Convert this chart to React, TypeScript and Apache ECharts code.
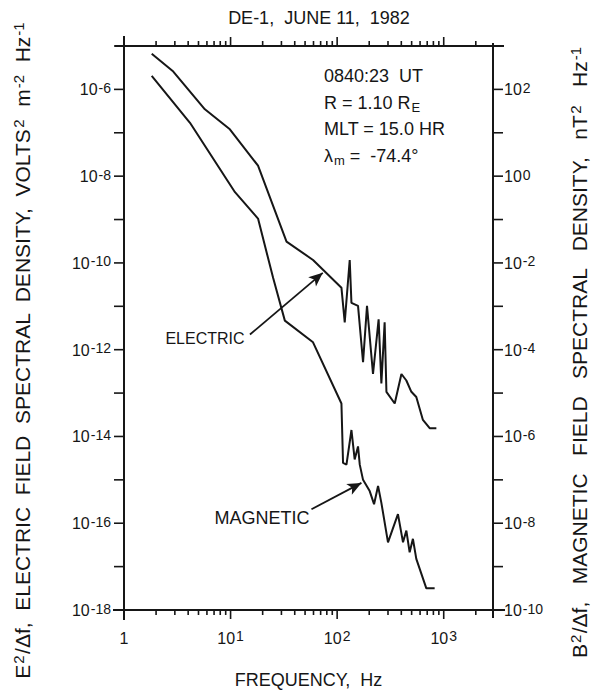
import React, { useEffect, useRef } from 'react';
import * as echarts from 'echarts';

// ---- data ----
const electricFreq = [1.82, 2.9, 5.74, 9.85, 18.1, 33.5, 59.4, 109.7, 117.8, 131.2, 136.2, 157, 175, 190.6, 217, 245, 260, 279, 290, 347, 401, 446, 497, 553, 638, 738, 853];
const electricPSD = [6.6e-6, 2.57e-6, 3.47e-7, 1.2e-7, 1.74e-8, 3.09e-10, 1.17e-10, 2.69e-11, 4.27e-12, 1.17e-10, 1.2e-11, 1.02e-11, 5.13e-13, 1.02e-11, 2.75e-13, 5.0e-12, 1.66e-13, 4.27e-12, 1.07e-13, 5.75e-14, 2.75e-13, 1.95e-13, 1.07e-13, 8.1e-14, 2.4e-14, 1.55e-14, 1.55e-14];

const magneticFreq = [1.82, 4.16, 11.0, 18.1, 25.1, 32.3, 59.4, 109.7, 113.6, 122.3, 136.2, 146, 157, 163, 175, 202, 222, 242, 260, 300, 372, 415, 446, 479, 514, 553, 687, 822];
const magneticPSD = [204, 17, 0.427, 0.105, 4.47e-3, 4.68e-4, 1.48e-4, 5.75e-6, 2.45e-7, 2.24e-7, 1.41e-6, 2.95e-7, 5.89e-7, 2.24e-7, 1e-7, 5.5e-8, 2.75e-8, 7.24e-8, 2.95e-8, 3.63e-9, 1.62e-8, 3.63e-9, 6.76e-9, 2.14e-9, 4.37e-9, 1.51e-9, 3.16e-10, 3.16e-10];

// axis ranges
const freqRange = [1, 2900];
const electricRange = [1e-18, 1e-5];
const magneticRange = [1e-10, 1e3];

// tick values
const freqMajorTicks = [1, 10, 100, 1000];
const freqMinorTicks = [2, 3, 4, 5, 6, 7, 8, 9, 20, 30, 40, 50, 60, 70, 80, 90, 200, 300, 400, 500, 600, 700, 800, 900, 2000];
const electricTicks = [1e-5, 1e-6, 1e-7, 1e-8, 1e-9, 1e-10, 1e-11, 1e-12, 1e-13, 1e-14, 1e-15, 1e-16, 1e-17, 1e-18];

// annotation arrows (data coordinates): [from, to]
const electricArrow = [[15.2, 2.24e-12], [73.3, 5.9e-11]];
const magneticArrow = [[57.4, 2.1e-8], [169, 8.5e-8]];

const infoLines = [
  '{t|0840:23  UT}',
  '{t|R = 1.10 R}{sub|E}',
  '{t|MLT = 15.0 HR}',
  '{t|λ}{sub|m}{t| =  -74.4°}',
];

const INK = '#161616';
const FONT = 'Liberation Sans';

const powLabel = (v: number, evenOnly: boolean, oneAsPlain: boolean) => {
  const e = Math.log10(v);
  const r = Math.round(e);
  if (Math.abs(e - r) > 1e-6) return '';
  if (evenOnly && r % 2 !== 0) return '';
  if (r === 0 && oneAsPlain) return '{b|1}';
  return `{b|10}{s|${r}}`;
};

const labelRich = {
  b: { fontSize: 16, lineHeight: 17, verticalAlign: 'bottom', color: INK, fontFamily: FONT },
  s: { fontSize: 14, lineHeight: 15, verticalAlign: 'top', padding: [0, 0, 8, 1], color: INK, fontFamily: FONT },
};

const nameRich = {
  b: { fontSize: 21, lineHeight: 22, verticalAlign: 'bottom', fill: INK, fontFamily: FONT },
  s: { fontSize: 15, lineHeight: 15, verticalAlign: 'top', padding: [0, 1, 9, 1], fill: INK, fontFamily: FONT },
};

export default function App() {
  const ref = useRef<HTMLDivElement>(null);
  useEffect(() => {
    if (!ref.current) return;
    const chart = echarts.init(ref.current, undefined, { renderer: 'svg' });

    const hiddenLine = { show: false, onZero: false };
    const hiddenTick = { show: false };

    const option: any = {
      animation: false,
      textStyle: { fontFamily: FONT, color: INK },
      grid: { left: 124, right: 103, top: 46, bottom: 79 },
      xAxis: [
        {
          type: 'log', logBase: 10, min: freqRange[0], max: freqRange[1], interval: 1,
          position: 'bottom', axisLine: hiddenLine, axisTick: hiddenTick, splitLine: { show: false },
          axisLabel: { formatter: (v: number) => powLabel(v, false, true), rich: labelRich, margin: 19 },
          name: 'FREQUENCY,  Hz', nameLocation: 'middle', nameGap: 61,
          nameTextStyle: { fontSize: 18, color: INK, fontFamily: FONT },
        },
        {
          type: 'log', logBase: 10, min: freqRange[0], max: freqRange[1], interval: 1,
          position: 'top', axisLine: hiddenLine, axisTick: hiddenTick, splitLine: { show: false },
          axisLabel: { show: false },
        },
      ],
      yAxis: [
        {
          type: 'log', logBase: 10, min: electricRange[0], max: electricRange[1], interval: 1,
          position: 'left', axisLine: hiddenLine, axisTick: hiddenTick, splitLine: { show: false },
          axisLabel: { formatter: (v: number) => powLabel(v, true, false), rich: labelRich, margin: 13 },
        },
        {
          type: 'log', logBase: 10, min: magneticRange[0], max: magneticRange[1], interval: 1,
          position: 'right', axisLine: hiddenLine, axisTick: hiddenTick, splitLine: { show: false },
          axisLabel: { formatter: (v: number) => powLabel(v, true, false), rich: labelRich, margin: 11 },
        },
      ],
      series: [
        {
          name: 'Electric', type: 'line', xAxisIndex: 0, yAxisIndex: 0, clip: false,
          data: electricFreq.map((f, i) => [f, electricPSD[i]]),
          symbol: 'none', lineStyle: { color: INK, width: 2 },
          markLine: {
            silent: true, symbol: ['none', 'arrow'], symbolSize: [9, 14],
            label: { show: false }, lineStyle: { color: INK, width: 1.8, type: 'solid' },
            data: [[{ coord: electricArrow[0] }, { coord: electricArrow[1] }]],
          },
        },
        {
          name: 'Magnetic', type: 'line', xAxisIndex: 0, yAxisIndex: 1, clip: false,
          data: magneticFreq.map((f, i) => [f, magneticPSD[i]]),
          symbol: 'none', lineStyle: { color: INK, width: 2 },
          markLine: {
            silent: true, symbol: ['none', 'arrow'], symbolSize: [9, 14],
            label: { show: false }, lineStyle: { color: INK, width: 1.8, type: 'solid' },
            data: [[{ coord: magneticArrow[0] }, { coord: magneticArrow[1] }]],
          },
        },
      ],
    };
    chart.setOption(option);

    const texts: any[] = [
      {
        type: 'text', x: 319, y: 18,
        style: { text: 'DE-1,  JUNE 11,  1982', fontSize: 18, fontFamily: FONT, fill: INK, align: 'center', verticalAlign: 'middle' },
      },
      ...infoLines.map((t, i) => ({
        type: 'text', x: 324, y: 77 + i * 26.5,
        style: {
          text: t, fill: INK, verticalAlign: 'middle', align: 'left',
          rich: {
            t: { fontSize: 18, fontFamily: FONT, fill: INK, lineHeight: 20, verticalAlign: 'top' },
            sub: { fontSize: 13, fontFamily: FONT, fill: INK, lineHeight: 14, verticalAlign: 'bottom', padding: [8, 0, 0, 1] },
          },
        },
      })),
      {
        type: 'text', x: 205, y: 338,
        style: { text: 'ELECTRIC', fontSize: 16, fontFamily: FONT, fill: INK, align: 'center', verticalAlign: 'middle' },
      },
      {
        type: 'text', x: 262, y: 518,
        style: { text: 'MAGNETIC', fontSize: 18, fontFamily: FONT, fill: INK, align: 'center', verticalAlign: 'middle' },
      },
      {
        type: 'text', x: 22, y: 350, rotation: Math.PI / 2,
        style: {
          text: '{b|E}{s|2}{b|/Δf,  ELECTRIC  FIELD  SPECTRAL  DENSITY,  VOLTS}{s|2}{b|  m}{s|-2}{b|  Hz}{s|-1}',
          rich: nameRich, fill: INK, align: 'center', verticalAlign: 'middle',
        },
      },
      {
        type: 'text', x: 579, y: 352, rotation: Math.PI / 2,
        style: {
          text: '{b|B}{s|2}{b|/Δf,   MAGNETIC   FIELD   SPECTRAL   DENSITY,   nT}{s|2}{b|   Hz}{s|-1}',
          rich: nameRich, fill: INK, align: 'center', verticalAlign: 'middle',
        },
      },
    ];

    // frame and ticks, positioned through the axes' own scales
    const lines: any[] = [];
    const px = (x: number, y: number): number[] | null => {
      const p = chart.convertToPixel({ xAxisIndex: 0, yAxisIndex: 0 } as any, [x, y]) as any;
      return Array.isArray(p) && isFinite(p[0]) && isFinite(p[1]) ? p : null;
    };
    const bl = px(freqRange[0], electricRange[0]);
    const tr = px(freqRange[1], electricRange[1]);
    if (bl && tr) {
      const x0 = bl[0], y0 = bl[1], x1 = tr[0], y1 = tr[1];
      const frameStyle = { stroke: INK, lineWidth: 2, fill: null };
      const tickStyle = { stroke: INK, lineWidth: 1.6, fill: null };
      const seg = (a: number[], b: number[], st: any) =>
        lines.push({ type: 'polyline', silent: true, z: 0, shape: { points: [a, b] }, style: st });
      seg([x0 - 11, y0], [x1 + 12, y0], frameStyle);
      seg([x0 - 9, y1], [x1 + 11, y1], frameStyle);
      seg([x0, y1 - 10], [x0, y0 + 10], frameStyle);
      seg([x1, y1 - 3], [x1, y0 + 8], frameStyle);
      freqMajorTicks.forEach((v) => {
        const p = px(v, electricRange[0]);
        if (!p) return;
        seg([p[0], y0], [p[0], y0 + 9], tickStyle);
        seg([p[0], y1], [p[0], y1 - 9], tickStyle);
      });
      freqMinorTicks.forEach((v) => {
        const p = px(v, electricRange[0]);
        if (!p) return;
        seg([p[0], y0], [p[0], y0 + 5], tickStyle);
        seg([p[0], y1], [p[0], y1 - 5], tickStyle);
      });
      electricTicks.forEach((v) => {
        const p = px(freqRange[0], v);
        if (!p) return;
        seg([x0, p[1]], [x0 - 10, p[1]], tickStyle);
        seg([x1, p[1]], [x1 + 10, p[1]], tickStyle);
      });
    }

    chart.setOption({ graphic: [...lines, ...texts] });
    return () => chart.dispose();
  }, []);
  return (
    <div style={{ position: 'absolute', left: 0, top: 0, width: 596, height: 694 }}>
      <div ref={ref} style={{ width: 596, height: 694 }} />
    </div>
  );
}
